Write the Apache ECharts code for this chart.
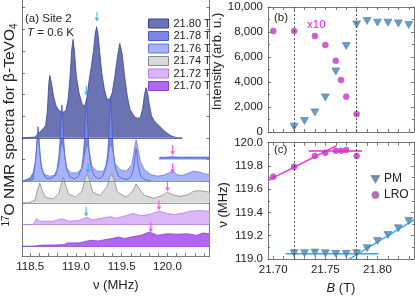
<!DOCTYPE html>
<html><head><meta charset="utf-8">
<script src="https://cdn.jsdelivr.net/npm/echarts@6/dist/echarts.min.js"></script>
<style>html,body{margin:0;padding:0;background:#fff}#c{width:415px;height:297px}</style>
</head><body><div id="c"></div>
<script>
const FONT = 'Liberation Sans, Arial, Helvetica, sans-serif';

// ---------- Panel (a): 17O NMR spectra, [frequency (MHz), intensity above own baseline] ----------
const spectrumNames = ['21.80 T', '21.78 T', '21.76 T', '21.74 T', '21.72 T', '21.70 T'];
const spectrumOffsets = [5, 4, 3, 2, 1, 0];        // vertical offset of each trace (21.78 T low-freq window sits at 3)
const offset2178Low = 3;
const spec2180 = [[118.41,0],[118.55,0.03],[118.604,0.26],[118.639,0.41],[118.668,0.56],[118.686,1.17],[118.704,2.54],[118.714,2.87],[118.732,2.54],[118.754,1.93],[118.782,1.47],[118.818,1.24],[118.854,1.17],[118.889,1.24],[118.915,1.78],[118.936,2.84],[118.953,4.05],[118.968,4.54],[118.982,4.05],[119.004,2.84],[119.033,2.08],[119.068,1.55],[119.097,1.47],[119.118,1.78],[119.14,2.54],[119.168,3.29],[119.193,4.05],[119.211,4.82],[119.226,5.12],[119.24,4.82],[119.261,3.9],[119.282,2.99],[119.311,2.23],[119.339,1.78],[119.368,1.78],[119.397,2.08],[119.425,2.84],[119.454,3.75],[119.479,4.36],[119.504,3.9],[119.532,2.84],[119.561,1.93],[119.59,1.32],[119.622,1.09],[119.647,0.94],[119.676,0.9],[119.704,0.94],[119.729,1.32],[119.747,1.93],[119.765,2.31],[119.783,2.08],[119.804,1.47],[119.826,1.02],[119.854,0.79],[119.89,0.64],[119.925,0.49],[119.961,0.33],[119.997,0.21],[120.033,0.1],[120.068,0.05],[120.104,0],[120.161,0]];
const spec2178Low = [[118.41,0],[118.446,0.05],[118.5,0.15],[118.532,0.38],[118.554,0.83],[118.564,1.26],[118.575,1.96],[118.586,2.51],[118.596,1.96],[118.607,1.26],[118.618,0.83],[118.639,0.38],[118.671,0.15],[118.714,0.1],[118.76,0.21],[118.793,0.53],[118.814,1.16],[118.825,1.76],[118.835,2.75],[118.846,3.52],[118.857,2.75],[118.868,1.76],[118.878,1.16],[118.9,0.53],[118.932,0.21],[118.982,0.1],[119.028,0.23],[119.061,0.57],[119.082,1.26],[119.093,1.92],[119.103,2.99],[119.114,3.83],[119.125,2.99],[119.136,1.92],[119.146,1.26],[119.168,0.57],[119.2,0.23],[119.25,0.1],[119.293,0.23],[119.325,0.57],[119.347,1.26],[119.357,1.92],[119.368,2.99],[119.379,3.83],[119.39,2.99],[119.4,1.92],[119.411,1.26],[119.432,0.57],[119.465,0.23],[119.518,0.1],[119.572,0.09],[119.604,0.23],[119.625,0.5],[119.636,0.75],[119.647,1.17],[119.658,1.5],[119.668,1.17],[119.679,0.75],[119.69,0.5],[119.711,0.23],[119.743,0.09],[119.818,0]];
const spec2178High = [[119.915,0],[119.917,0.1],[119.97,0.1],[120.05,0.12],[120.15,0.1],[120.25,0.11],[120.35,0.1],[120.46,0.11]];
const spec2176 = [[118.41,0],[118.479,0],[118.532,0.07],[118.561,1.06],[118.575,1.82],[118.586,1.97],[118.604,1.38],[118.621,0.61],[118.658,0.3],[118.711,0.23],[118.782,0.27],[118.811,0.76],[118.832,1.52],[118.846,1.84],[118.872,1.37],[118.897,0.61],[118.943,0.38],[119.014,0.38],[119.068,0.61],[119.103,1.43],[119.121,1.74],[119.146,1.37],[119.175,0.68],[119.229,0.46],[119.301,0.46],[119.347,0.91],[119.365,1.52],[119.379,1.74],[119.4,1.52],[119.425,0.83],[119.479,0.53],[119.55,0.46],[119.611,0.76],[119.64,1.52],[119.658,1.9],[119.676,1.52],[119.704,0.91],[119.747,0.53],[119.818,0.3],[119.89,0.23],[119.961,0.27],[120.014,0.38],[120.057,0.46],[120.104,0.3],[120.158,0.26],[120.212,0.33],[120.282,0.46],[120.354,0.41],[120.408,0.33],[120.46,0.3]];
const spec2174 = [[118.41,0],[118.479,0],[118.55,0.11],[118.578,0.56],[118.604,0.91],[118.632,0.56],[118.668,0.26],[118.747,0.18],[118.811,0.41],[118.84,0.87],[118.861,1.17],[118.883,0.87],[118.918,0.41],[118.996,0.26],[119.068,0.56],[119.103,1.17],[119.122,1.35],[119.146,1.09],[119.183,0.49],[119.264,0.34],[119.336,0.72],[119.371,1.2],[119.39,1.35],[119.414,1.09],[119.454,0.49],[119.55,0.26],[119.622,0.56],[119.658,0.87],[119.693,0.64],[119.747,0.34],[119.854,0.21],[119.944,0.34],[119.997,0.49],[120.051,0.38],[120.14,0.29],[120.229,0.38],[120.282,0.53],[120.354,0.56],[120.46,0.49]];
const spec2172 = [[118.41,0],[118.532,0],[118.568,0.26],[118.604,0.15],[118.747,0.15],[118.846,0.26],[118.925,0.15],[119.033,0.18],[119.122,0.33],[119.175,0.21],[119.282,0.29],[119.371,0.36],[119.443,0.29],[119.55,0.41],[119.622,0.51],[119.711,0.41],[119.8,0.46],[119.907,0.61],[119.997,0.51],[120.068,0.46],[120.158,0.51],[120.247,0.61],[120.354,0.64],[120.46,0.61]];
const spec2170 = [[118.41,0],[118.532,0],[118.639,0.05],[118.747,0.05],[118.872,0.07],[118.907,0.15],[119.033,0.15],[119.157,0.27],[119.247,0.24],[119.318,0.3],[119.39,0.35],[119.461,0.42],[119.532,0.35],[119.604,0.42],[119.711,0.5],[119.8,0.65],[119.89,0.5],[119.997,0.57],[120.104,0.55],[120.212,0.57],[120.319,0.5],[120.39,0.61],[120.46,0.57]];
const blueArrows = [[119.229,10.58],[119.114,7.17],[119.132,3.59],[119.111,1.59]];
const pinkArrows = [[120.057,4.43],[120.057,3.59],[120.0,2.75],[119.907,1.88],[119.818,0.86]];
const freqTicks = [118.5,118.6,118.7,118.8,118.9,119.0,119.1,119.2,119.3,119.4,119.5,119.6,119.7,119.8,119.9,120.0,120.1,120.2,120.3,120.4];
const freqLabels = [118.5,119.0,119.5,120.0];
const offsetTicks = [0,1,2,3,4,5,6,7,8,9,10,11];

// ---------- Panels (b),(c) ----------
const pmField = [21.72,21.73,21.74,21.75,21.76,21.77,21.78,21.79,21.80,21.81,21.82,21.83];
const pmIntensity = [420,880,1570,2770,4850,6880,8610,8880,8750,8750,8690,8560];
const pmFreq = [119.05,119.05,119.055,119.05,119.045,119.045,119.05,119.092,119.155,119.206,119.264,119.327];
const lroField = [21.70,21.72,21.74,21.75,21.76,21.765,21.77,21.78];
const lroIntensityX10 = [8080,8080,7680,6960,5700,4160,2830,1440];
const lroFreq = [119.708,119.794,119.886,119.914,119.931,119.931,119.937,119.886];
const pmFlatLine = [[21.712,119.045],[21.801,119.045]];
const pmSlopeLine = [[21.773,119.0],[21.8355,119.338]];
const lroSlopeLine = [[21.695,119.676],[21.7603,119.972]];
const lroFlatLine = [[21.734,119.929],[21.785,119.929]];
const transitionFields = [21.72, 21.78];
const fieldTicks = [21.70,21.71,21.72,21.73,21.74,21.75,21.76,21.77,21.78,21.79,21.80,21.81,21.82,21.83];
const fieldLabels = [21.70,21.75,21.80];

// ---------- styles ----------
const fills   = {'21.80 T':'#6b73b3','21.78 T':'#7a88e4','21.76 T':'#a6b2fa','21.74 T':'#d9d9d9','21.72 T':'#dcb6f7','21.70 T':'#b266f2'};
const strokes = {'21.80 T':'#3a4290','21.78 T':'#4a5ac8','21.76 T':'#6a78d8','21.74 T':'#8a8a8a','21.72 T':'#b080e0','21.70 T':'#8a40d0'};
const AX = '#555';
const TXT = '#222';
const PMC = '#2b8cd6', PML = '#2aa8f0', LROC = '#e61ee6', LROL = '#f025dc';

const A_MIN = 118.41, A_MAX = 120.46;
function spectrum(name, pts, off, baseline, endX) {
  return {
    type: 'line', name, xAxisIndex: 0, yAxisIndex: 0,
    data: pts.map(p => [p[0], p[1] + off]),
    symbol: 'none', smooth: false, animation: false,
    lineStyle: {color: strokes[name], width: 0.8},
    areaStyle: {color: fills[name], opacity: 1, origin: off},
    markLine: baseline ? {
      silent: true, symbol: ['none','none'], label: {show: false}, animation: false,
      lineStyle: {color: strokes[name], width: 0.8, type: 'solid'},
      data: [[{coord: [A_MIN, off]}, {coord: [endX, off]}]]
    } : undefined
  };
}
const arrowPath = 'path://M1.5,0 L2.5,0 L2.5,6 L4,6 L2,10 L0,6 L1.5,6 Z';
const triPath = 'path://M0,0 L10,0 L5,8.66 Z';

function tickAxisBase(extra) {
  return Object.assign({
    type: 'value',
    axisLine: {show: true, onZero: false, lineStyle: {color: AX, width: 0.8}},
    axisTick: {show: true, inside: true, length: 3, lineStyle: {color: AX, width: 0.8}},
    splitLine: {show: false},
    axisLabel: {show: false}
  }, extra);
}
const labelStyle = {color: TXT, fontSize: 11.5, fontFamily: FONT};
const nameStyle = {color: TXT, fontSize: 13, fontFamily: FONT};

const option = {
  animation: false,
  backgroundColor: '#fff',
  grid: [
    {left: 19, top: 0, width: 190.5, height: 259.3},
    {left: 268, top: 7, width: 146, height: 125},
    {left: 268, top: 142.7, width: 146, height: 116.3}
  ],
  xAxis: [
    tickAxisBase({gridIndex: 0, position: 'bottom', min: A_MIN, max: A_MAX,
      axisTick: {show: true, inside: true, length: 3, customValues: freqTicks, lineStyle: {color: AX, width: 0.8}},
      axisLabel: Object.assign({show: true, margin: 5, customValues: freqLabels, formatter: v => v.toFixed(1)}, labelStyle),
      name: 'ν (MHz)', nameLocation: 'middle', nameGap: 23, nameTextStyle: nameStyle}),
    tickAxisBase({gridIndex: 1, position: 'bottom', min: 21.695, max: 21.835,
      axisTick: {show: true, inside: true, length: 3, customValues: fieldTicks, lineStyle: {color: AX, width: 0.8}}}),
    tickAxisBase({gridIndex: 1, position: 'top', min: 21.695, max: 21.835,
      axisTick: {show: true, inside: true, length: 3, customValues: fieldTicks, lineStyle: {color: AX, width: 0.8}}}),
    tickAxisBase({gridIndex: 2, position: 'bottom', min: 21.695, max: 21.835,
      axisTick: {show: true, inside: true, length: 3, customValues: fieldTicks, lineStyle: {color: AX, width: 0.8}},
      axisLabel: Object.assign({show: true, margin: 5, customValues: fieldLabels, formatter: v => v.toFixed(2)}, labelStyle),
      name: '{i|B} (T)', nameLocation: 'middle', nameGap: 23,
      nameTextStyle: Object.assign({rich: {i: {fontStyle: 'italic', fontSize: 13, fontFamily: FONT, color: TXT}}}, nameStyle)}),
    tickAxisBase({gridIndex: 2, position: 'top', min: 21.695, max: 21.835,
      axisTick: {show: true, inside: true, length: 3, customValues: fieldTicks, lineStyle: {color: AX, width: 0.8}}})
  ],
  yAxis: [
    tickAxisBase({gridIndex: 0, position: 'left', min: -0.455, max: 11.357,
      axisTick: {show: true, inside: true, length: 3, customValues: offsetTicks, lineStyle: {color: AX, width: 0.8}},
      name: '{sup|17}O NMR spectra for β-TeVO{sub|4}', nameLocation: 'middle', nameRotate: 90, nameGap: 3,
      nameTextStyle: {color: TXT, fontSize: 15.5, fontFamily: FONT, lineHeight: 18, padding: [0, 0, 0, 6], rich: {
        sup: {fontSize: 10, lineHeight: 11, verticalAlign: 'top', fontFamily: FONT, color: TXT},
        sub: {fontSize: 10, lineHeight: 11, verticalAlign: 'bottom', fontFamily: FONT, color: TXT}}}}),
    tickAxisBase({gridIndex: 0, position: 'right', min: -0.455, max: 11.357,
      axisTick: {show: true, inside: true, length: 3, customValues: offsetTicks, lineStyle: {color: AX, width: 0.8}}}),
    tickAxisBase({gridIndex: 1, position: 'left', min: 0, max: 10000, interval: 2000,
      minorTick: {show: true, splitNumber: 2, length: 2, lineStyle: {color: AX, width: 0.8}},
      axisLabel: Object.assign({show: true, margin: 5}, labelStyle),
      name: 'Intensity (arb. u.)', nameLocation: 'middle', nameRotate: 90, nameGap: 37,
      nameTextStyle: Object.assign({padding: [0, 0, 0, 16]}, nameStyle)}),
    tickAxisBase({gridIndex: 1, position: 'right', min: 0, max: 10000, interval: 2000,
      minorTick: {show: true, splitNumber: 2, length: 2, lineStyle: {color: AX, width: 0.8}}}),
    tickAxisBase({gridIndex: 2, position: 'left', min: 119, max: 120, interval: 0.2,
      minorTick: {show: true, splitNumber: 2, length: 2, lineStyle: {color: AX, width: 0.8}},
      axisLabel: Object.assign({show: true, margin: 5, formatter: v => v.toFixed(1)}, labelStyle),
      name: 'ν (MHz)', nameLocation: 'middle', nameRotate: 90, nameGap: 37,
      nameTextStyle: Object.assign({padding: [0, 8, 0, 0]}, nameStyle)}),
    tickAxisBase({gridIndex: 2, position: 'right', min: 119, max: 120, interval: 0.2,
      minorTick: {show: true, splitNumber: 2, length: 2, lineStyle: {color: AX, width: 0.8}}})
  ],
  legend: [
    {orient: 'vertical', left: 143, top: 13, itemWidth: 20, itemHeight: 9, itemGap: 1.5,
     textStyle: {fontSize: 11, lineHeight: 10, fontFamily: FONT, color: TXT},
     selectedMode: false,
     data: spectrumNames.map(n => ({name: n, icon: 'rect', itemStyle: {color: fills[n], borderColor: strokes[n], borderWidth: 1}}))},
    {orient: 'vertical', left: 366, top: 168, itemWidth: 7, itemHeight: 6, itemGap: 4,
     textStyle: {fontSize: 12, fontFamily: FONT, color: TXT}, selectedMode: false,
     data: ['PM', 'LRO']}
  ],
  graphic: [
    {type: 'text', x: 25, y: 19, style: {text: '(a) Site 2', font: '11.5px ' + FONT, fill: TXT, verticalAlign: 'middle'}},
    {type: 'text', x: 27, y: 33, style: {text: '{i|T} = 0.6 K', font: '11.5px ' + FONT, fill: TXT, verticalAlign: 'middle',
      rich: {i: {fontStyle: 'italic', fontSize: 11.5, fontFamily: FONT, fill: TXT}}}},
    {type: 'text', x: 274, y: 18, style: {text: '(b)', font: '11.5px ' + FONT, fill: TXT, verticalAlign: 'middle'}},
    {type: 'text', x: 307, y: 25, style: {text: 'x10', font: '11.5px ' + FONT, fill: LROC, verticalAlign: 'middle'}},
    {type: 'text', x: 274, y: 150, style: {text: '(c)', font: '11.5px ' + FONT, fill: TXT, verticalAlign: 'middle'}}
  ],
  series: [
    spectrum('21.80 T', spec2180, spectrumOffsets[0], true, 120.161),
    spectrum('21.78 T', spec2178Low, offset2178Low, false),
    spectrum('21.78 T', spec2178High, spectrumOffsets[1], false),
    spectrum('21.76 T', spec2176, spectrumOffsets[2], true, A_MAX),
    spectrum('21.74 T', spec2174, spectrumOffsets[3], true, A_MAX),
    spectrum('21.72 T', spec2172, spectrumOffsets[4], true, A_MAX),
    spectrum('21.70 T', spec2170, spectrumOffsets[5], true, A_MAX),
    {type: 'scatter', name: 'PM arrows', xAxisIndex: 0, yAxisIndex: 0, data: blueArrows,
     symbol: arrowPath, symbolSize: [4.5, 10], itemStyle: {color: '#22a8f5'}, silent: true, z: 5},
    {type: 'scatter', name: 'LRO arrows', xAxisIndex: 0, yAxisIndex: 0, data: pinkArrows,
     symbol: arrowPath, symbolSize: [4.5, 10], itemStyle: {color: '#ff2af0'}, silent: true, z: 5},

    // (b)
    {type: 'scatter', name: 'PM', xAxisIndex: 1, yAxisIndex: 2,
     data: pmField.map((b, i) => [b, pmIntensity[i]]),
     symbol: triPath, symbolSize: [8, 7], itemStyle: {color: PMC, borderColor: '#7a7a7a', borderWidth: 0.8}, z: 4,
     markLine: {silent: true, symbol: ['none','none'], label: {show: false}, animation: false,
       lineStyle: {color: '#333', width: 0.8, type: [2, 2]}, data: transitionFields.map(v => ({xAxis: v}))}},
    {type: 'scatter', name: 'LRO', xAxisIndex: 1, yAxisIndex: 2,
     data: lroField.map((b, i) => [b, lroIntensityX10[i]]),
     symbol: 'circle', symbolSize: 6, itemStyle: {color: LROC, borderColor: '#888', borderWidth: 0.8}, z: 4},

    // (c)
    {type: 'line', name: 'PM fit flat', xAxisIndex: 3, yAxisIndex: 4, data: pmFlatLine, symbol: 'none',
     lineStyle: {color: PML, width: 1.4}, z: 2,
     markLine: {silent: true, symbol: ['none','none'], label: {show: false}, animation: false,
       lineStyle: {color: '#333', width: 0.8, type: [2, 2]}, data: transitionFields.map(v => ({xAxis: v}))}},
    {type: 'line', name: 'PM fit slope', xAxisIndex: 3, yAxisIndex: 4, data: pmSlopeLine, symbol: 'none',
     lineStyle: {color: PML, width: 1.4}, z: 2},
    {type: 'line', name: 'LRO fit slope', xAxisIndex: 3, yAxisIndex: 4, data: lroSlopeLine, symbol: 'none',
     lineStyle: {color: LROL, width: 1.4}, z: 2},
    {type: 'line', name: 'LRO fit flat', xAxisIndex: 3, yAxisIndex: 4, data: lroFlatLine, symbol: 'none',
     lineStyle: {color: LROL, width: 1.4}, z: 2},
    {type: 'scatter', name: 'PM', xAxisIndex: 3, yAxisIndex: 4,
     data: pmField.map((b, i) => [b, pmFreq[i]]),
     symbol: triPath, symbolSize: [8, 7], itemStyle: {color: PMC, borderColor: '#7a7a7a', borderWidth: 0.8}, z: 4},
    {type: 'scatter', name: 'LRO', xAxisIndex: 3, yAxisIndex: 4,
     data: lroField.map((b, i) => [b, lroFreq[i]]),
     symbol: 'circle', symbolSize: 6, itemStyle: {color: LROC, borderColor: '#888', borderWidth: 0.8}, z: 4}
  ]
};
const chart = echarts.init(document.getElementById('c'), null, {renderer: 'canvas'});
chart.setOption(option);
</script></body></html>
